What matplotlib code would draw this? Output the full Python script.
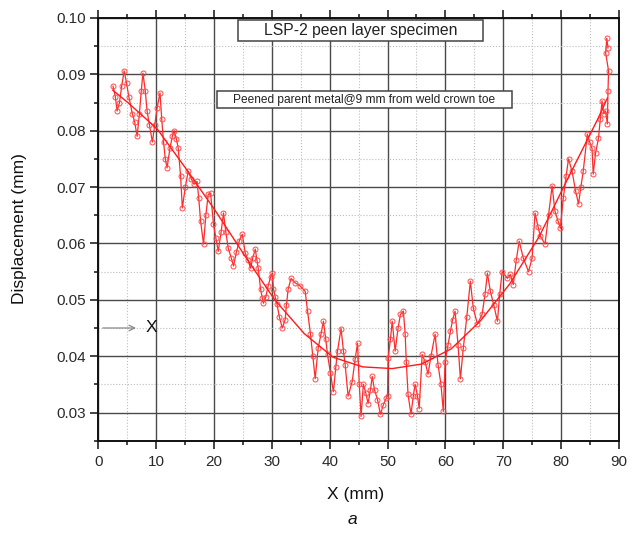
import matplotlib
matplotlib.use("Agg")
import matplotlib.pyplot as plt
from matplotlib.patches import Rectangle
from matplotlib.ticker import MultipleLocator

plt.rcParams['font.family'] = ['Liberation Sans', 'DejaVu Sans']

# measured displacement (noisy series)
x_meas = [2.54, 2.95, 3.25, 3.66, 4.06, 4.47, 4.88, 5.28, 5.89, 6.30, 6.71, 7.11, 7.42, 7.72,
          8.13, 8.43, 8.84, 9.35, 9.75, 10.16, 10.67, 10.97, 11.28, 11.58, 11.89, 12.40,
          12.80, 13.11, 13.51, 13.82, 14.22, 14.53, 15.04, 15.54, 16.05, 16.56, 17.07,
          17.37, 17.68, 18.19, 18.59, 19.00, 19.41, 19.91, 20.32, 20.73, 21.23, 21.64,
          22.05, 22.45, 22.96, 23.37, 23.88, 24.38, 24.89, 25.40, 25.91, 26.31, 26.72,
          27.13, 27.43, 27.64, 28.04, 28.35, 28.55, 28.96, 29.36, 29.77, 30.07, 30.28,
          30.58, 30.89, 31.29, 31.80, 32.31, 32.51, 32.82, 33.32, 34.04, 34.85, 35.76,
          36.17, 36.68, 37.08, 37.49, 38.00, 38.51, 38.91, 39.32, 39.62, 40.13, 40.64,
          41.05, 41.35, 41.96, 42.37, 42.67, 43.18, 43.89, 44.40, 44.81, 45.11, 45.42,
          45.82, 46.23, 46.63, 47.04, 47.35, 47.75, 48.26, 48.77, 49.28, 49.78, 49.99,
          50.09, 50.50, 50.80, 51.31, 51.82, 52.22, 52.73, 53.04, 53.24, 53.54, 54.05,
          54.46, 54.76, 55.17, 55.47, 55.98, 56.49, 57.00, 57.50, 58.22, 58.72, 59.23,
          59.64, 59.94, 60.45, 60.86, 61.26, 61.67, 62.18, 62.59, 63.09, 63.70, 64.31,
          64.82, 65.53, 66.34, 66.85, 67.26, 67.77, 68.38, 68.99, 69.39, 69.80, 70.71,
          71.22, 71.73, 72.24, 72.75, 73.46, 74.37, 74.98, 75.49, 76.00, 76.40, 77.22,
          77.83, 78.44, 78.94, 79.45, 79.86, 80.37, 80.87, 81.28, 81.89, 82.50, 83.01,
          83.41, 83.82, 84.53, 84.94, 85.34, 85.55, 85.95, 86.46, 86.77, 87.07, 87.38,
          87.68, 87.99, 88.10, 88.20, 87.70, 87.90, 88.10]
y_meas = [0.0879, 0.0860, 0.0835, 0.0850, 0.0880, 0.0906, 0.0885, 0.0860, 0.0830, 0.0815,
          0.0790, 0.0830, 0.0870, 0.0902, 0.0870, 0.0835, 0.0810, 0.0780, 0.0810, 0.0840,
          0.0867, 0.0820, 0.0780, 0.0750, 0.0734, 0.0770, 0.0790, 0.0800, 0.0785, 0.0769,
          0.0720, 0.0663, 0.0700, 0.0728, 0.0715, 0.0705, 0.0710, 0.0680, 0.0640, 0.0599,
          0.0650, 0.0687, 0.0689, 0.0634, 0.0610, 0.0586, 0.0620, 0.0654, 0.0620, 0.0592,
          0.0575, 0.0560, 0.0585, 0.0605, 0.0616, 0.0583, 0.0570, 0.0556, 0.0575, 0.0590,
          0.0570, 0.0556, 0.0520, 0.0503, 0.0494, 0.0505, 0.0525, 0.0540, 0.0547, 0.0520,
          0.0505, 0.0492, 0.0470, 0.0450, 0.0465, 0.0490, 0.0519, 0.0538, 0.0530, 0.0525,
          0.0515, 0.0480, 0.0439, 0.0400, 0.0360, 0.0414, 0.0440, 0.0462, 0.0430, 0.0403,
          0.0370, 0.0337, 0.0380, 0.0409, 0.0449, 0.0410, 0.0385, 0.0329, 0.0355, 0.0395,
          0.0423, 0.0350, 0.0293, 0.0350, 0.0335, 0.0316, 0.0340, 0.0364, 0.0340, 0.0323,
          0.0297, 0.0314, 0.0325, 0.0330, 0.0396, 0.0430, 0.0462, 0.0409, 0.0450, 0.0474,
          0.0480, 0.0440, 0.0390, 0.0332, 0.0297, 0.0330, 0.0350, 0.0330, 0.0307, 0.0403,
          0.0390, 0.0368, 0.0400, 0.0439, 0.0385, 0.0350, 0.0302, 0.0390, 0.0420, 0.0444,
          0.0465, 0.0480, 0.0420, 0.0360, 0.0414, 0.0470, 0.0533, 0.0485, 0.0457, 0.0474,
          0.0510, 0.0547, 0.0515, 0.0490, 0.0462, 0.0510, 0.0550, 0.0538, 0.0545, 0.0527,
          0.0570, 0.0604, 0.0574, 0.0550, 0.0574, 0.0654, 0.0630, 0.0613, 0.0599, 0.0650,
          0.0702, 0.0657, 0.0640, 0.0627, 0.0680, 0.0720, 0.0750, 0.0728, 0.0693, 0.0670,
          0.0700, 0.0728, 0.0794, 0.0780, 0.0769, 0.0723, 0.0760, 0.0787, 0.0820, 0.0853,
          0.0830, 0.0835, 0.0812, 0.0870, 0.0906, 0.0938, 0.0964, 0.0947]

# fitted curve
x_fit = [2.5, 5.1, 10.2, 15.2, 20.3, 25.4, 30.5, 35.6, 40.6, 45.7, 50.8, 55.9, 61.0,
         66.0, 71.1, 76.2, 81.3, 86.4, 88.0]
y_fit = [0.0872, 0.0850, 0.0803, 0.0732, 0.0657, 0.0577, 0.0500, 0.0440, 0.0398, 0.0381,
         0.0378, 0.0386, 0.0413, 0.0462, 0.0528, 0.0612, 0.0718, 0.0822, 0.0858]

xticks = list(range(0, 91, 10))
yticks = [0.03, 0.04, 0.05, 0.06, 0.07, 0.08, 0.09, 0.10]

fig = plt.figure(figsize=(6.37, 5.37), dpi=100)
ax = fig.add_axes([0.1543, 0.1793, 0.8174, 0.7872])

ax.plot(x_meas, y_meas, color='#ff2a2a', lw=0.9, marker='o', ms=3.6,
        mfc='none', mec='#ff4a4a', mew=0.7, zorder=3)
ax.plot(x_fit, y_fit, color='#ff1a1a', lw=1.0, zorder=4)

ax.set_xlim(0, 90)
ax.set_ylim(0.025, 0.100)
ax.set_xticks(xticks)
ax.set_yticks(yticks)
ax.set_yticklabels([f"{v:.2f}" for v in yticks])
ax.xaxis.set_minor_locator(MultipleLocator(5))
ax.yaxis.set_minor_locator(MultipleLocator(0.005))

ax.grid(which='major', color='#4a4a4a', lw=1.0, ls='-', zorder=1)
ax.grid(which='minor', color='#bdbdbd', lw=0.8, ls=':', zorder=1)
ax.set_axisbelow(True)

for s in ax.spines.values():
    s.set_linewidth(1.4)
    s.set_color('#111111')

ax.tick_params(which='both', top=True, right=False, direction='out', width=1.1,
               labelsize=11, colors='#111111', labelcolor='#2a2a2a')
ax.tick_params(which='major', length=5.5)
ax.tick_params(which='minor', length=2.8)
ax.tick_params(axis='y', pad=3.3)
ax.tick_params(axis='x', pad=4.5)
ax.tick_params(axis='x', labeltop=False)

# text boxes
ax.add_patch(Rectangle((0.268, 0.9456), 0.739 - 0.268, 0.995 - 0.9456,
                       transform=ax.transAxes, facecolor='white', edgecolor='#444444',
                       lw=1.1, zorder=5))
ax.text(0.5036, 0.970, "LSP-2 peen layer specimen", transform=ax.transAxes,
        ha='center', va='center', fontsize=11.3, color='#222222', zorder=6)
ax.add_patch(Rectangle((0.2274, 0.7864), 0.794 - 0.2274, 0.828 - 0.7864,
                       transform=ax.transAxes, facecolor='white', edgecolor='#444444',
                       lw=1.1, zorder=5))
ax.text(0.5107, 0.807, "Peened parent metal@9 mm from weld crown toe",
        transform=ax.transAxes, ha='center', va='center', fontsize=8.6,
        color='#222222', zorder=6)

# arrow and X marker
ax.annotate('', xy=(7.0, 0.045), xytext=(0.3, 0.045),
            arrowprops=dict(arrowstyle='->', color='#8a8a8a', lw=0.9), zorder=6)
ax.text(9.2, 0.045, "X", ha='center', va='center', fontsize=12.5, color='#111111', zorder=6)

fig.text(20 / 637, 1 - 229 / 537, "Displacement (mm)", rotation=90,
         ha='center', va='center', fontsize=12.5, color='#111111')
fig.text(356 / 637, 1 - 494 / 537, "X (mm)", ha='center', va='center',
         fontsize=12.5, color='#111111')
fig.text(352 / 637, 1 - 519 / 537, "a", ha='center', va='center', fontsize=12.5,
         style='italic', color='#111111')

fig.savefig("out.png", dpi=100)
